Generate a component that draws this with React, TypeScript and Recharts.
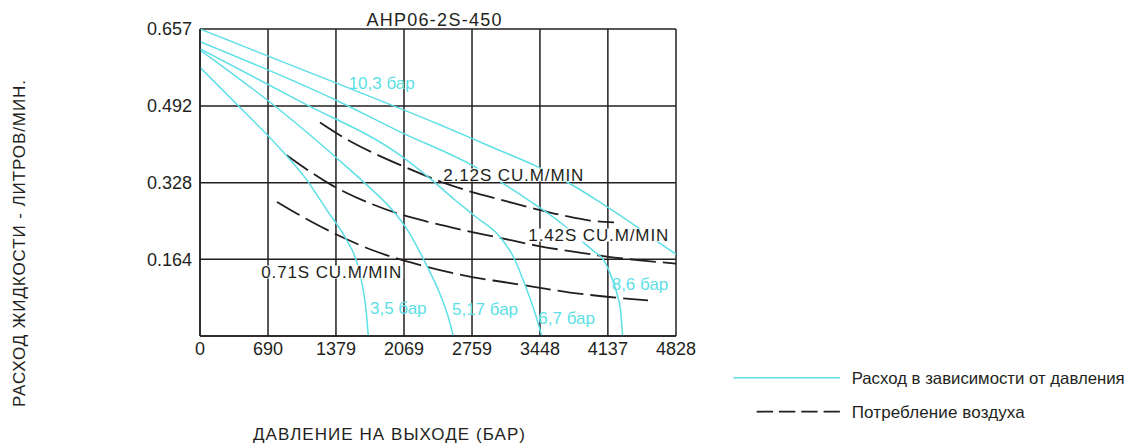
import React from "react";
import { LineChart, Line, XAxis, YAxis, CartesianGrid, ReferenceDot } from "recharts";

// ---- data ----
const pressureTicks = [0, 690, 1379, 2069, 2759, 3448, 4137, 4828];
const flowTicks = [0.164, 0.328, 0.492, 0.657];

// Расход в зависимости от давления: [давление на выходе, расход]
const flow103: [number, number][] = [[0, 0.657], [1217, 0.555], [2434, 0.452], [2941, 0.406], [3405, 0.364], [3736, 0.328], [4024, 0.291], [4429, 0.234], [4666, 0.198], [4828, 0.175]];
const flow86: [number, number][] = [[0, 0.63], [1387, 0.504], [2029, 0.437], [2762, 0.365], [3060, 0.328], [3330, 0.291], [3685, 0.238], [3905, 0.197], [3996, 0.181], [4093, 0.163], [4174, 0.126], [4230, 0.09], [4265, 0.056], [4287, 0]];
const flow67: [number, number][] = [[0, 0.615], [1045, 0.499], [2029, 0.387], [2350, 0.334], [2586, 0.291], [2810, 0.253], [3043, 0.212], [3175, 0.171], [3317, 0.098], [3388, 0.056], [3466, 0]];
const flow517: [number, number][] = [[0, 0.612], [778, 0.489], [1488, 0.362], [1724, 0.317], [1958, 0.268], [2110, 0.225], [2282, 0.158], [2434, 0.09], [2515, 0.043], [2569, 0]];
const flow35: [number, number][] = [[0, 0.575], [406, 0.489], [778, 0.409], [1082, 0.334], [1285, 0.27], [1488, 0.205], [1589, 0.159], [1656, 0.098], [1684, 0.056], [1707, 0]];

// Потребление воздуха
const air212: [number, number][] = [[1217, 0.457], [1488, 0.421], [1795, 0.388], [2097, 0.36], [2434, 0.331], [2807, 0.305], [3094, 0.289], [3418, 0.271], [3702, 0.257], [3956, 0.247], [4199, 0.243]];
const air142: [number, number][] = [[879, 0.387], [1116, 0.352], [1319, 0.325], [1488, 0.306], [1724, 0.284], [1995, 0.263], [2299, 0.245], [2705, 0.225], [3043, 0.21], [3449, 0.192], [3804, 0.18], [4125, 0.17], [4463, 0.162], [4828, 0.155]];
const air071: [number, number][] = [[781, 0.287], [1136, 0.244], [1488, 0.207], [1745, 0.184], [1995, 0.166], [2231, 0.152], [2434, 0.141], [2759, 0.126], [3094, 0.115], [3418, 0.104], [3753, 0.093], [4125, 0.084], [4544, 0.076]];

const flowLabels = ["10,3 бар", "8,6 бар", "6,7 бар", "5,17 бар", "3,5 бар"];
const flowLabelX = [1843, 4463, 3719, 2891, 2011];
const flowLabelY = [0.5425, 0.111, 0.0385, 0.058, 0.06];
const airLabels = ["2.12S CU.M/MIN", "1.42S CU.M/MIN", "0.71S CU.M/MIN"];
const airLabelX = [3178, 4040, 1331];
const airLabelY = [0.3446, 0.216, 0.137];

const title = "AHP06-2S-450";
const xTitle = "ДАВЛЕНИЕ НА ВЫХОДЕ (БАР)";
const yTitle = "РАСХОД ЖИДКОСТИ - ЛИТРОВ/МИН.";
const legendFlow = "Расход в зависимости от давления";
const legendAir = "Потребление воздуха";

// ---- styles ----
const CYAN = "#5ddfe6";
const INK = "#231f20";
const FONT = "'Liberation Sans', Arial, Helvetica, sans-serif";

const toPts = (arr: [number, number][]) => arr.map(([x, y]) => ({ x, y }));
const flowSeries = [flow103, flow86, flow67, flow517, flow35].map(toPts);
const airSeries = [air212, air142, air071].map(toPts);

const W = 1120;
const H = 427;

const AnnShape = (props: any) => {
  const { cx, cy, text, color, bg } = props;
  if (cx == null || cy == null) return null;
  const w = 144;
  return (
    <g>
      {bg && <rect x={cx - w / 2} y={cy - 6.5} width={w} height={13} fill="#ffffff" />}
      <text
        x={cx}
        y={cy}
        dy="0.36em"
        textAnchor="middle"
        fill={color}
        fontSize={17}
        fontFamily={FONT}
        {...(bg ? { textLength: 140, lengthAdjust: "spacing" } : {})}
      >
        {text}
      </text>
    </g>
  );
};

export default function App() {
  return (
    <div style={{ position: "relative", width: 1120, height: 435, background: "#fff" }}>
      <style>{"html,body{overflow:hidden}"}</style>
      <LineChart
        width={W}
        height={H}
        margin={{ top: 21, right: 452, left: 132, bottom: 69 }}
      >
        <CartesianGrid stroke={INK} strokeWidth={1.5} />
        <XAxis
          type="number"
          dataKey="x"
          domain={[0, 4828]}
          ticks={pressureTicks}
          interval={0}
          height={30}
          tickLine={false}
          tickMargin={0}
          axisLine={{ stroke: INK, strokeWidth: 1.5 }}
          tick={{ fill: INK, fontSize: 18, fontFamily: FONT }}
          allowDataOverflow
        />
        <YAxis
          type="number"
          domain={[0, 0.657]}
          ticks={flowTicks}
          interval={0}
          width={60}
          tickLine={false}
          axisLine={{ stroke: INK, strokeWidth: 1.5 }}
          tick={{ fill: INK, fontSize: 18, fontFamily: FONT }}
          allowDataOverflow
        />
        {airSeries.map((d, i) => (
          <Line
            key={"air" + i}
            data={d}
            dataKey="y"
            type="monotone"
            stroke={INK}
            strokeWidth={1.8}
            strokeDasharray="26 7"
            dot={false}
            activeDot={false}
            isAnimationActive={false}
          />
        ))}
        {flowSeries.map((d, i) => (
          <Line
            key={"flow" + i}
            data={d}
            dataKey="y"
            type="monotone"
            stroke={CYAN}
            strokeWidth={1.5}
            dot={false}
            activeDot={false}
            isAnimationActive={false}
          />
        ))}
        {airLabels.map((t, i) => (
          <ReferenceDot
            key={"al" + i}
            x={airLabelX[i]}
            y={airLabelY[i]}
            r={0}
            ifOverflow="visible"
            shape={(p: any) => <AnnShape {...p} text={t} color={INK} bg />}
          />
        ))}
        {flowLabels.map((t, i) => (
          <ReferenceDot
            key={"fl" + i}
            x={flowLabelX[i]}
            y={flowLabelY[i]}
            r={0}
            ifOverflow="visible"
            shape={(p: any) => <AnnShape {...p} text={t} color={CYAN} bg={false} />}
          />
        ))}
      </LineChart>
      <svg
        width={1128}
        height={435}
        style={{ position: "absolute", left: 0, top: 0, pointerEvents: "none", overflow: "visible" }}
      >
        <text x={426} y={18} textAnchor="middle" fontSize={18} textLength={135} lengthAdjust="spacing" fill={INK} fontFamily={FONT}>
          {title}
        </text>
        <text
          transform="translate(17, 235.5) rotate(-90)"
          textAnchor="middle"
          fontSize={17}
          textLength={327}
          lengthAdjust="spacing"
          fill={INK}
          fontFamily={FONT}
        >
          {yTitle}
        </text>
        <text x={381} y={432} textAnchor="middle" fontSize={17} textLength={272} lengthAdjust="spacing" fill={INK} fontFamily={FONT}>
          {xTitle}
        </text>
        <line x1={725.3} x2={832} y1={369.7} y2={369.7} stroke={CYAN} strokeWidth={1.5} />
        <text x={843.7} y={376.3} fontSize={16.5} textLength={273} lengthAdjust="spacingAndGlyphs" fill={INK} fontFamily={FONT}>
          {legendFlow}
        </text>
        <line x1={748.7} x2={832} y1={403.7} y2={403.7} stroke={INK} strokeWidth={1.8} strokeDasharray="16.3 6" />
        <text x={843.7} y={410} fontSize={17} textLength={173} lengthAdjust="spacing" fill={INK} fontFamily={FONT}>
          {legendAir}
        </text>
      </svg>
    </div>
  );
}
